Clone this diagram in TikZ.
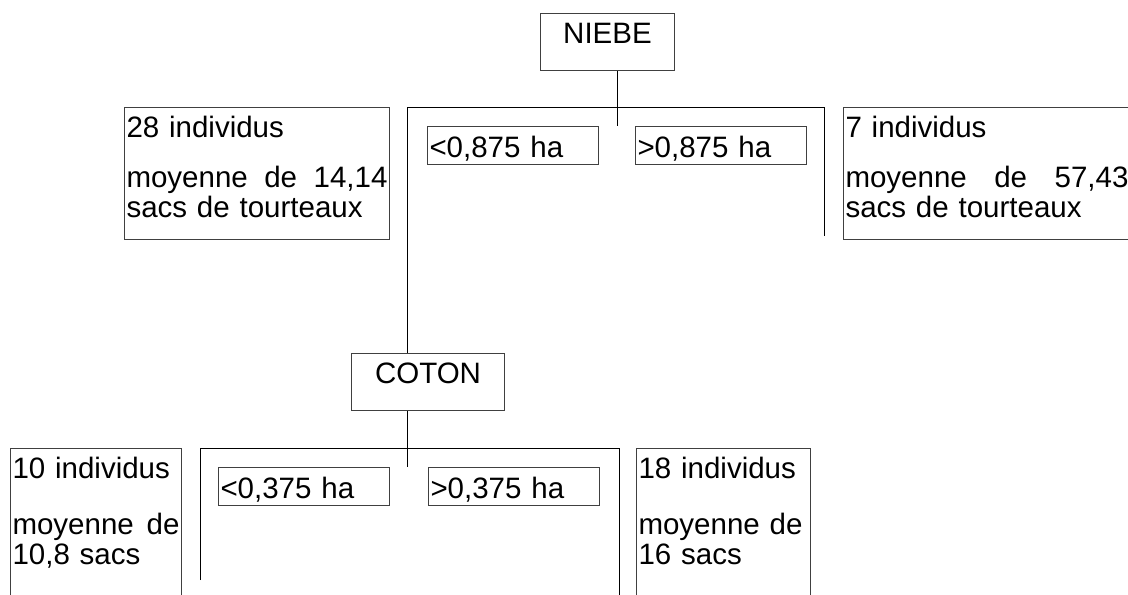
\documentclass[tikz,border=0pt]{standalone}
\usepackage{fontspec}
\setmainfont{Liberation Sans}
\usetikzlibrary{calc}

\newcommand{\diagfont}{\fontsize{14.75pt}{15pt}\selectfont}

\begin{document}
\begin{tikzpicture}[x=0.5pt, y=-0.5pt, line width=0.5pt,
    plainbox/.style={draw=black!75, anchor=north west, inner ysep=0pt, font=\diagfont},
    varbox/.style={plainbox, inner xsep=0pt, align=center, text height=15pt, text depth=13.5pt},
    condbox/.style={plainbox, inner xsep=1pt, align=left, text width=83.5pt,
                    text height=15.5pt, text depth=3.5pt},
    leafbox/.style={plainbox, inner xsep=1pt, align=left, text height=15pt}]

  \useasboundingbox (0,0) rectangle (1128,594);

  % --- first split: NIEBE ---
  \node[varbox, text width=67pt] (niebe) at (540,13) {NIEBE};
  \node[condbox] (niebeLow) at (427,126) {<0,875 ha};
  \node[condbox] (niebeHigh) at (635,126) {>0,875 ha};
  \node[leafbox, text width=130.5pt, text depth=51pt] (leafA) at (124,107)
       {28 individus\\[10pt] moyenne\hfill de\hfill 14,14\\ sacs de tourteaux};
  \node[leafbox, text width=141.5pt, text depth=51pt] (leafB) at (843,107)
       {7 individus\\[10pt] moyenne\hfill de\hfill 57,43\\ sacs de tourteaux};

  % --- second split: COTON ---
  \node[varbox, text width=76.5pt] (coton) at (351,353) {COTON};
  \node[condbox] (cotonLow) at (218,467) {<0,375 ha};
  \node[condbox] (cotonHigh) at (428,467) {>0,375 ha};
  \node[leafbox, text width=83.5pt, text depth=80pt] (leafC) at (10,448)
       {10 individus\\[13pt] moyenne\hfill de\\ 10,8 sacs};
  \node[leafbox, text width=85pt, text depth=80pt] (leafD) at (636,448)
       {18 individus\\[13pt] moyenne de\\ 16 sacs};

  % --- branches ---
  \coordinate (niebeStem) at (617,126);
  \coordinate (niebeL) at (407.5,107);
  \coordinate (niebeR) at (824,107);
  \coordinate (niebeRend) at (824,236);
  \draw (niebe.south -| niebeStem) -- (niebeStem);
  \draw (coton.north -| niebeL) -- (niebeL) -- (niebeR) -- (niebeRend);

  \coordinate (cotonStem) at (407.5,467);
  \coordinate (cotonL) at (200,448);
  \coordinate (cotonLend) at (200,580);
  \coordinate (cotonR) at (619,448);
  \coordinate (cotonRend) at (619,610);
  \draw (coton.south -| cotonStem) -- (cotonStem);
  \draw (cotonLend) -- (cotonL) -- (cotonR) -- (cotonRend);
\end{tikzpicture}
\end{document}
